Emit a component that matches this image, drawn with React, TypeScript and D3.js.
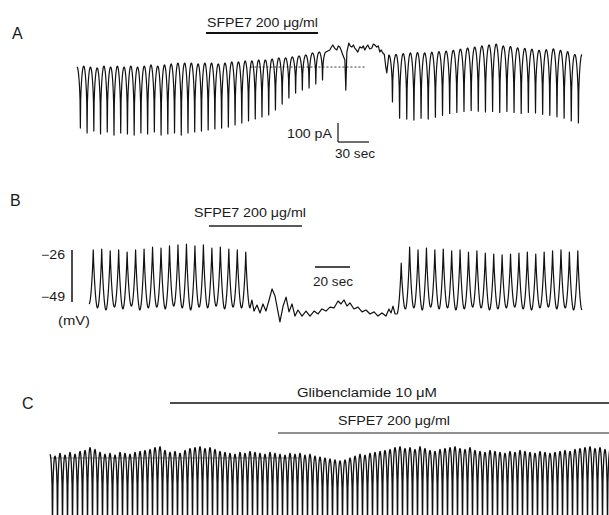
import React from 'react';
import * as d3 from 'd3';

// ---- panel A : membrane current (pA) vs time (sec) ----
const A_LEFT_TOPS = [-16, -11, -16, -21, -11, -16, -11, -16, -11, -16, -11, -5, -11, -5, 0, 5, 5, 5, 0, 5, 5, 0, 5, 11, 11, 16, 16, 21, 21, 26, 32, 32, 37, 42, 47, 58, 63];
const A_LEFT_TROUGHS = [-337, -363, -353, -368, -358, -374, -363, -368, -374, -363, -368, -358, -374, -368, -363, -374, -363, -358, -353, -347, -342, -337, -332, -321, -311, -300, -289, -279, -268, -242, -211, -179, -153, -137, -126, -105, -84];
const A_MID = [
  [244.8, 74], [246.2, 88], [247.7, 100], [249.6, 82], [251.6, 74], [253.0, 95], [254.5, 89], [256.0, 70], [257.4, 47], [259.4, 21],
  [260.3, -137], [261.3, 63], [263.2, 110], [264.6, 95], [266.1, 89], [267.6, 100], [269.0, 84], [270.4, 74], [271.9, 63], [273.8, 90],
  [275.8, 84], [277.2, 95], [278.7, 74], [280.2, 90], [281.6, 100], [283.5, 79], [285.5, 84], [287.0, 105], [288.4, 100], [290.3, 89],
  [291.8, 95], [293.2, 63], [294.6, 74], [296.1, 58], [297.6, 50], [299.0, -16], [300.0, -47], [301.9, 47],
];
const A_RIGHT_TOPS = [47, 50, 55, 58, 60, 58, 62, 65, 68, 72, 78, 84, 89, 95, 100, 105, 95, 92, 85, 82, 78, 72, 75, 80, 72, 65, 50];
const A_RIGHT_TROUGHS = [-200, -285, -290, -295, -285, -290, -280, -270, -260, -255, -250, -245, -248, -252, -250, -255, -250, -255, -260, -255, -258, -265, -270, -278, -285, -300, -310];

// ---- panel B : membrane potential (mV) vs time (sec) ----
const B_LEFT_PEAKS = [-25.0, -24.6, -25.5, -25.0, -26.0, -25.0, -24.6, -23.6, -24.1, -23.1, -22.6, -22.2, -23.1, -22.6, -24.1, -23.6, -24.6, -25.0, -26.0];
const B_LEFT_TROUGHS = [-50.9, -52.8, -53.8, -52.4, -53.3, -51.9, -53.8, -52.8, -52.4, -53.3, -51.9, -52.8, -53.8, -52.4, -52.8, -51.9, -53.3, -52.4, -52.8];
const B_MID = [
  [93.1, -49.0], [94.3, -54.3], [96.0, -51.4], [97.7, -55.2], [99.4, -50.9], [101.1, -54.3], [102.9, -49.0], [104.6, -43.7],
  [106.3, -47.1], [108.0, -54.7], [109.1, -59.5], [110.9, -51.9], [112.6, -47.6], [114.3, -54.7], [116.0, -50.9], [117.7, -56.7],
  [119.4, -53.8], [121.7, -56.7], [124.0, -54.3], [126.3, -56.7], [128.6, -54.3], [130.9, -55.7], [133.1, -53.3], [135.4, -54.3],
  [137.7, -52.4], [140.0, -52.8], [142.3, -49.5], [144.0, -50.9], [145.7, -49.0], [147.4, -51.9], [149.1, -50.4], [151.4, -53.3],
  [153.7, -52.4], [156.0, -54.7], [158.3, -53.8], [160.6, -55.7], [162.9, -54.7], [165.1, -56.7], [167.4, -55.2], [169.7, -56.7],
  [171.4, -53.3], [172.6, -55.2], [173.7, -51.9], [174.9, -55.7],
];
const B_RIGHT_PEAKS = [-31.3, -23.6, -25.0, -24.1, -25.0, -24.6, -25.5, -25.0, -26.0, -25.5, -26.5, -27.0, -27.4, -27.0, -26.5, -26.0, -27.0, -26.0, -25.5, -25.0, -26.0, -25.5];
const B_RIGHT_TROUGHS = [-55.7, -53.3, -52.8, -53.8, -52.4, -53.3, -52.8, -53.8, -53.3, -52.4, -52.8, -53.8, -53.3, -52.8, -52.4, -53.3, -53.8, -52.8, -52.4, -53.3, -52.8, -53.8];

// ---- panel C : current with glibenclamide, one top per cycle ----
const C_TOPS = [
  20, 10, 25, 15, 30, 20, 35, 40, 55, 45,
  30, 20, 25, 15, 30, 25, 20, 30, 35, 40,
  45, 55, 60, 40, 30, 35, 25, 40, 50, 55,
  60, 50, 55, 45, 35, 30, 25, 20, 30, 25,
  35, 30, 25, 20, 30, 25, 20, 15, 25, 20,
  25, 15, 20, 10, 5, 0, -5, -10, -15, -10,
  0, 10, 20, 15, 25, 30, 35, 40, 45, 55,
  60, 50, 55, 45, 60, 50, 40, 35, 45, 50,
  55, 60, 50, 45, 55, 40, 35, 30, 40, 35,
  30, 25, 35, 30, 40, 35, 30, 25, 35, 30,
  25, 30, 35, 40, 35, 45, 50, 55, 60, 50,
  55, 45,
];
const C_TROUGH = -370;

const FONT = "'Liberation Sans', Arial, sans-serif";

// expand per-cycle levels into a trace; edges at cycle boundaries, mid value at half cycle
function cycles(t0: number, t1: number, edges: number[], mids: number[], k: number, steps: number) {
  const n = mids.length;
  const p = (t1 - t0) / n;
  const out: [number, number][] = [];
  for (let i = 0; i < n; i++) {
    const e0 = edges[i];
    const e1 = edges[Math.min(i + 1, n - 1)];
    const last = i === n - 1 ? steps : steps - 1;
    for (let s = 0; s <= last; s++) {
      const u = s / steps;
      const e = e0 + (e1 - e0) * u;
      const w = Math.pow(Math.abs(Math.cos(Math.PI * u)), k);
      out.push([t0 + (i + u) * p, mids[i] + (e - mids[i]) * w]);
    }
  }
  return out;
}

export default function App() {
  const width = 609;
  const height = 515;

  // A
  const xA = d3.scaleLinear().domain([0, 489]).range([77, 582]);
  const yA = d3.scaleLinear().domain([0, -100]).range([64, 83]);
  const traceA = [
    ...cycles(0, 241, A_LEFT_TOPS, A_LEFT_TROUGHS, 0.42, 20),
    ...(A_MID as [number, number][]),
    ...cycles(302, 489, A_RIGHT_TOPS, A_RIGHT_TROUGHS, 0.42, 20),
  ];
  const lineA = d3.line<[number, number]>().x(d => xA(d[0])).y(d => yA(d[1]));

  // B
  const xB = d3.scaleLinear().domain([0, 281.7]).range([89, 582]);
  const yB = d3.scaleLinear().domain([-26, -49]).range([252, 300]);
  const traceB = [
    ...cycles(0, 92, B_LEFT_TROUGHS, B_LEFT_PEAKS, 0.8, 20),
    ...(B_MID as [number, number][]),
    ...cycles(176, 281.7, B_RIGHT_TROUGHS, B_RIGHT_PEAKS, 0.8, 20),
  ];
  const lineB = d3.line<[number, number]>().x(d => xB(d[0])).y(d => yB(d[1]));

  // C
  const xC = d3.scaleLinear().domain([0, C_TOPS.length]).range([50, 610]);
  const yC = d3.scaleLinear().domain([0, -100]).range([458, 477]);
  const traceC = cycles(0, C_TOPS.length, C_TOPS, C_TOPS.map(() => C_TROUGH), 0.4, 12);
  const lineC = d3.line<[number, number]>().x(d => xC(d[0])).y(d => yC(d[1]));

  const txt = { fontFamily: FONT, fill: '#1a1a1a' } as const;

  return (
    <svg width={width} height={height} style={{ position: 'absolute', left: 0, top: 0, background: '#fff' }}>
      <rect width={width} height={height} fill="#fff" />

      {/* ---------- A ---------- */}
      <text x={12} y={39} fontSize={16} {...txt}>A</text>
      <text x={207} y={27} fontSize={12} textLength={111} lengthAdjust="spacingAndGlyphs" {...txt}>SFPE7 200 μg/ml</text>
      <line x1={206} x2={318} y1={33} y2={33} stroke="#111" strokeWidth={2} />
      <line x1={xA(168)} x2={xA(280)} y1={yA(-16)} y2={yA(-16)} stroke="#333" strokeWidth={1} strokeDasharray="2,2" />
      <path d={lineA(traceA) ?? ''} fill="none" stroke="#111" strokeWidth={1.2} strokeLinejoin="round" />
      <text x={287} y={138} fontSize={12} textLength={45} lengthAdjust="spacingAndGlyphs" {...txt}>100 pA</text>
      <line x1={338} x2={338} y1={yA(0) + 59} y2={yA(-100) + 59} stroke="#111" strokeWidth={1.2} />
      <line x1={338} x2={338 + xA(30) - xA(0)} y1={142} y2={142} stroke="#111" strokeWidth={1.2} />
      <text x={335} y={158} fontSize={12} textLength={40} lengthAdjust="spacingAndGlyphs" {...txt}>30 sec</text>

      {/* ---------- B ---------- */}
      <text x={10} y={206} fontSize={16} {...txt}>B</text>
      <text x={194} y={217} fontSize={12} textLength={112} lengthAdjust="spacingAndGlyphs" {...txt}>SFPE7  200 μg/ml</text>
      <line x1={209} x2={302} y1={226} y2={226} stroke="#222" strokeWidth={1.5} />
      <text x={41} y={259} fontSize={12} textLength={24} lengthAdjust="spacingAndGlyphs" {...txt}>−26</text>
      <text x={41} y={301} fontSize={12} textLength={24} lengthAdjust="spacingAndGlyphs" {...txt}>−49</text>
      <text x={58} y={325} fontSize={12} textLength={32} lengthAdjust="spacingAndGlyphs" {...txt}>(mV)</text>
      <line x1={72} x2={72} y1={250} y2={302} stroke="#111" strokeWidth={1.5} />
      <path d={lineB(traceB) ?? ''} fill="none" stroke="#111" strokeWidth={1.2} strokeLinejoin="round" />
      <line x1={315} x2={315 + xB(20) - xB(0)} y1={267} y2={267} stroke="#111" strokeWidth={1.5} />
      <text x={313} y={286} fontSize={12} textLength={40} lengthAdjust="spacingAndGlyphs" {...txt}>20 sec</text>

      {/* ---------- C ---------- */}
      <text x={22} y={409} fontSize={16} {...txt}>C</text>
      <text x={297} y={397} fontSize={12} textLength={140} lengthAdjust="spacingAndGlyphs" {...txt}>Glibenclamide 10 μM</text>
      <line x1={170} x2={609} y1={403} y2={403} stroke="#111" strokeWidth={1.5} />
      <text x={338} y={425} fontSize={12} textLength={112} lengthAdjust="spacingAndGlyphs" {...txt}>SFPE7 200 μg/ml</text>
      <line x1={278} x2={609} y1={433} y2={433} stroke="#222" strokeWidth={1} />
      <line x1={50} x2={300} y1={yC(0)} y2={yC(0)} stroke="#555" strokeWidth={0.6} />
      <path d={lineC(traceC) ?? ''} fill="none" stroke="#111" strokeWidth={1.3} strokeLinejoin="round" />
    </svg>
  );
}
